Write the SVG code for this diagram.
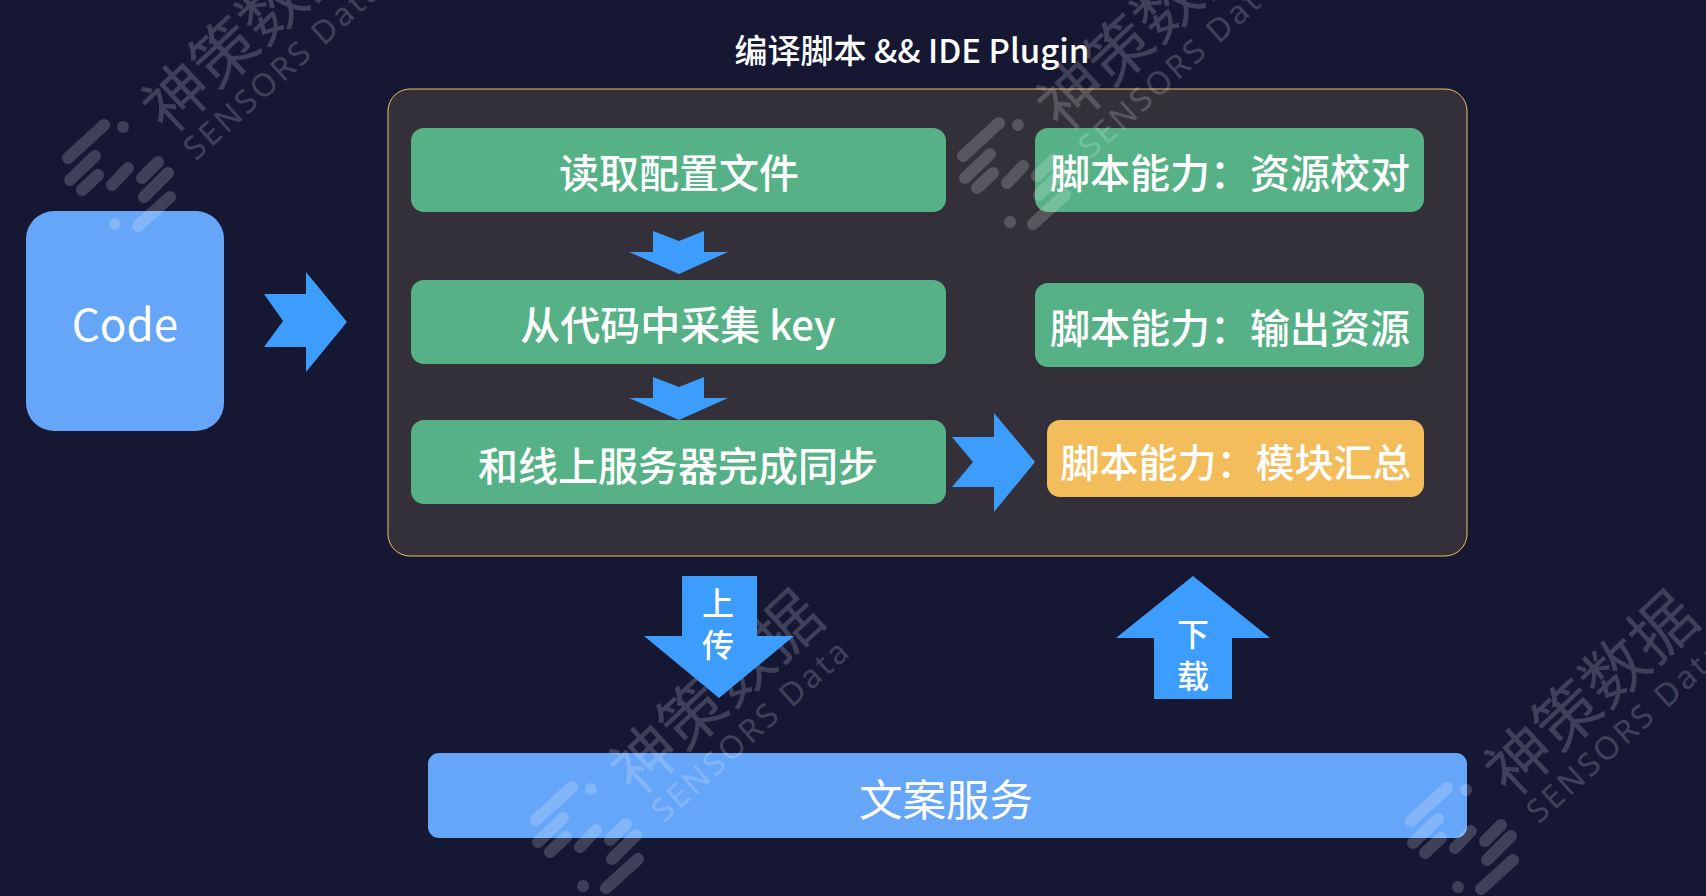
<svg xmlns="http://www.w3.org/2000/svg" width="1706" height="896" viewBox="0 0 1706 896">
<style>
text{font-family:"Noto Sans CJK SC","Noto Sans",sans-serif;fill:#fff;text-anchor:middle;dominant-baseline:central}
.g{fill:#56b286}.b{fill:#66a6f8}.a{fill:#3d9dfc}
.l{font-size:40px;font-weight:500}
.v{font-size:32px;font-weight:500}
.wm *{opacity:.18}
.wm line{stroke:#fff;stroke-width:12;stroke-linecap:round}
.wm circle{fill:#fff}
.wm text{font-weight:400}
</style>
<defs>
<g id="wm" class="wm">
<line x1="68" y1="158" x2="104" y2="125"/><circle cx="123" cy="127" r="6"/>
<line x1="70" y1="180" x2="95" y2="156"/><line x1="82" y1="190" x2="98" y2="175"/><line x1="112" y1="185" x2="128" y2="168"/>
<line x1="142" y1="178" x2="158" y2="162"/><line x1="144" y1="197" x2="168" y2="173"/><line x1="138" y1="226" x2="170" y2="197"/><circle cx="115" cy="224" r="6"/>
<text transform="translate(245 27) rotate(-43)" font-size="65">神策数据</text>
<text transform="translate(282 67) rotate(-42)" font-size="32" letter-spacing="3" style="font-family:'Noto Sans',sans-serif">SENSORS Data</text>
</g>
</defs>
<rect id="background" width="1706" height="896" fill="#151733"/>
<g id="panel"><rect x="388" y="89" width="1079" height="467" rx="22" fill="#34303a" stroke="#f0c060" stroke-width="1"/></g>
<text id="panel-title" x="912" y="49" font-size="33" font-weight="500">编译脚本 &amp;&amp; IDE Plugin</text>
<g id="node-code"><rect class="b" x="26" y="211" width="198" height="220" rx="28"/><text x="125" y="322" font-size="44">Code</text></g>
<g id="node-read"><rect class="g" x="411" y="128" width="535" height="84" rx="13"/><text class="l" x="679" y="171">读取配置文件</text></g>
<g id="node-collect"><rect class="g" x="411" y="280" width="535" height="84" rx="13"/><text class="l" x="678" y="323">从代码中采集 key</text></g>
<g id="node-sync"><rect class="g" x="411" y="420" width="535" height="84" rx="13"/><text class="l" x="678" y="464">和线上服务器完成同步</text></g>
<g id="node-check"><rect class="g" x="1035" y="128" width="389" height="84" rx="13"/><text class="l" x="1230" y="171">脚本能力：资源校对</text></g>
<g id="node-output"><rect class="g" x="1035" y="283" width="389" height="84" rx="13"/><text class="l" x="1230" y="326">脚本能力：输出资源</text></g>
<g id="node-merge"><rect x="1047" y="420" width="377" height="77" rx="13" fill="#f3bd5c"/><text x="1236" y="460" font-size="39" font-weight="500">脚本能力：模块汇总</text></g>
<g id="node-service"><rect class="b" x="428" y="753" width="1039" height="85" rx="11"/><text x="946" y="797" font-size="43.5">文案服务</text></g>
<use href="#wm"/>
<use href="#wm" x="895" y="-2"/>
<use href="#wm" x="468" y="662"/>
<use href="#wm" x="1343" y="663"/>
<g id="connectors">
<polygon class="a" points="264,294 306,294 306,272 347,322 306,372 306,347 264,347 283,321"/>
<polygon class="a" points="952,437 994,437 994,413 1035,462 994,512 994,487 952,487 973,462"/>
<polygon class="a" points="653,231 679,241 704,231 704,252 728,252 679,274 629,252 653,252"/>
<polygon class="a" points="653,377 679,387 704,377 704,398 728,398 679,420 629,398 653,398"/>
<polygon class="a" points="682,576 757,576 757,636 794,636 719,698 644,636 682,636"/>
<polygon class="a" points="1193,576 1270,638 1232,638 1232,699 1154,699 1154,638 1116,638"/>
<text class="v" x="718" y="601">上</text>
<text class="v" x="718" y="643">传</text>
<text class="v" x="1193" y="632">下</text>
<text class="v" x="1193" y="674">载</text>
</g>
</svg>
